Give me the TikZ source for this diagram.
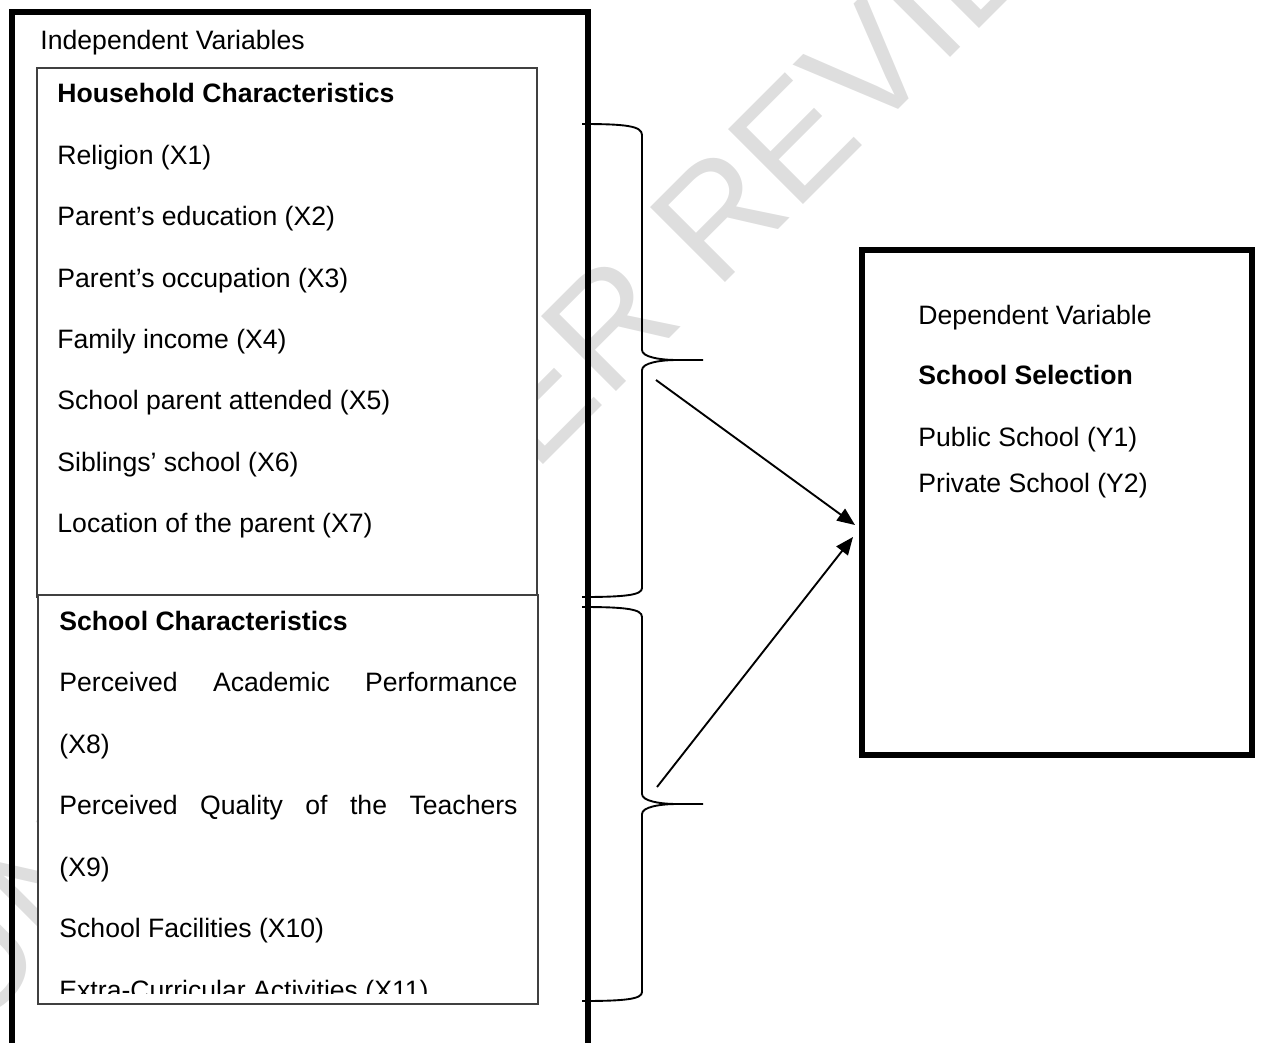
\documentclass[tikz,border=0pt]{standalone}
\usepackage{fontspec}
\setmainfont{Liberation Sans}
\usetikzlibrary{arrows.meta}

\begin{document}
\begin{tikzpicture}[x=0.451pt,y=-0.451pt,font=\fontsize{12}{14}\selectfont,
  txt/.style={anchor=base west,inner sep=0pt},
  thinbox/.style={draw=black!75,line width=0.5pt,fill=white},
  thickbox/.style={draw=black,line width=2.3pt},
  brace/.style={draw=black,line width=0.85pt},
  link/.style={draw=black,line width=0.85pt,-{Triangle[length=8pt,width=6.5pt]}}]

\clip (0,0) rectangle (1261,1042);

% --- Watermark (behind everything) ---
\node[text=black!13,rotate=45,inner sep=0pt,font=\fontsize{69.5}{70}\selectfont] (wm) at (522,412) {UNDER PEER REVIEW};

% --- Draw boxes ---
% Outer box of the independent variables (open at the bottom)
\draw[thickbox] (12,1060) -- (12,12) -- (588,12) -- (588,1060);

% Household box and school box
\draw[thinbox] (37,68) rectangle (537,597);
\draw[thinbox] (38,595) rectangle (538,1004);

% Dependent variable box
\draw[thickbox] (862,250) rectangle (1252,755);

% --- Independent variables text ---
\node[txt] (iv) at (40,49.5) {Independent Variables};

\node[txt] (hh0) at (57,102) {\bfseries Household Characteristics};
\node[txt] (hh1) at (57,164.5) {Religion (X1)};
\node[txt] (hh2) at (57,225.5) {Parent’s education (X2)};
\node[txt] (hh3) at (57,287.5) {Parent’s occupation (X3)};
\node[txt] (hh4) at (57,348.5) {Family income (X4)};
\node[txt] (hh5) at (57,409.5) {School parent attended (X5)};
\node[txt] (hh6) at (57,471.5) {Siblings’ school (X6)};
\node[txt] (hh7) at (57,532.5) {Location of the parent (X7)};

\node[txt] (sc0) at (59,630.5) {\bfseries School Characteristics};
\node[txt] (sc1) at (59,691.5) {\makebox[206.6pt][s]{Perceived Academic Performance}};
\node[txt] (sc2) at (59,753.5) {(X8)};
\node[txt] (sc3) at (59,814.5) {\makebox[206.6pt][s]{Perceived Quality of the Teachers}};
\node[txt] (sc4) at (59,876.5) {(X9)};
\node[txt] (sc5) at (59,937.5) {School Facilities (X10)};
\begin{scope}
  \clip (38,595) rectangle (538,993);
  \node[txt] (sc6) at (59,999.5) {Extra-Curricular Activities (X11)};
\end{scope}

% --- Dependent variable text ---
\node[txt] (dv0) at (918,324.5) {Dependent Variable};
\node[txt] (dv1) at (918,384.5) {\bfseries School Selection};
\node[txt] (dv2) at (918,446.5) {Public School (Y1)};
\node[txt] (dv3) at (918,492.5) {Private School (Y2)};

% --- Braces ---
% Household brace
\draw[brace] (582,124) .. controls (626,124) and (642,126) .. (642,135) -- (642,350)
  .. controls (642,357) and (660,360) .. (677,360) -- (703,360) -- (677,360)
  .. controls (660,360) and (642,363) .. (642,370) -- (642,588)
  .. controls (642,595) and (626,597) .. (582,597);

% School brace
\draw[brace] (582,607) .. controls (626,607) and (642,609) .. (642,617) -- (642,794)
  .. controls (642,801) and (660,804) .. (677,804) -- (703,804) -- (677,804)
  .. controls (660,804) and (642,807) .. (642,814) -- (642,992)
  .. controls (642,999) and (626,1001) .. (582,1001);

% --- Arrows ---
\coordinate (hhout) at (656,380);
\coordinate (scout) at (657,787);
\coordinate (depin1) at (855,525);
\coordinate (depin2) at (853,537);
\draw[link] (hhout) -- (depin1);
\draw[link] (scout) -- (depin2);

\end{tikzpicture}
\end{document}
